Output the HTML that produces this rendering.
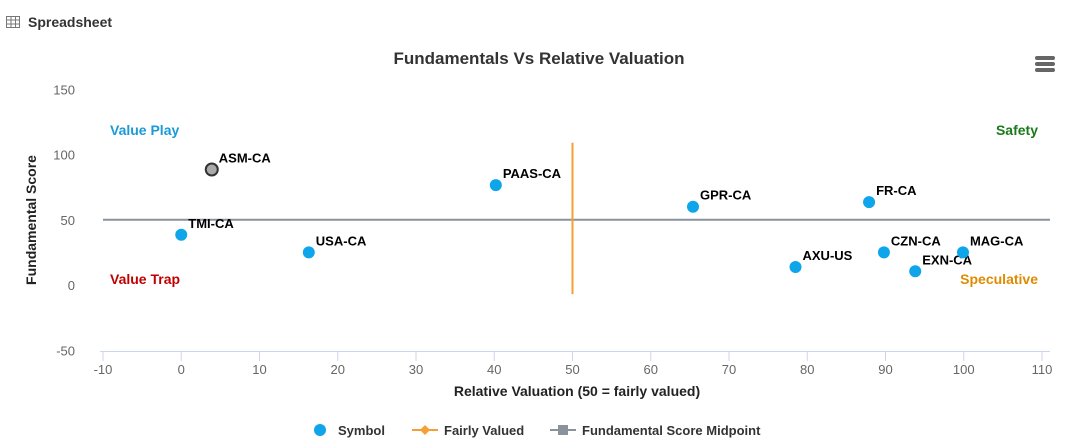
<!DOCTYPE html>
<html><head><meta charset="utf-8"><style>
body{margin:0;width:1070px;height:441px;background:#fff;font-family:"Liberation Sans",Arial,sans-serif;overflow:hidden}
</style></head><body>
<div style="position:absolute;left:6px;top:14px;font-size:14px;font-weight:bold;color:#333;display:flex;align-items:center">
<svg width="14" height="12" style="margin-right:8px"><rect x="0.5" y="0.5" width="13" height="11" fill="none" stroke="#777"/><path d="M0 4h14M0 8h14M5 0v12M9.5 0v12" stroke="#777"/></svg>Spreadsheet</div>
<svg id="chart" width="1070" height="441" style="position:absolute;left:0;top:0"></svg>
<script>
const names=["ASM-CA","TMI-CA","USA-CA","PAAS-CA","GPR-CA","FR-CA","AXU-US","CZN-CA","EXN-CA","MAG-CA"];
const relVal=[3.9,0,16.3,40.2,65.4,87.9,78.5,89.8,93.8,99.9];
const fundScore=[88.5,38.5,25,76.5,60,63.5,13.8,25,10.5,25];
const xTicks=[-10,0,10,20,30,40,50,60,70,80,90,100,110];
const yTicks=[150,100,50,0,-50];
const fairValue=50, midpoint=50;
const svg=document.getElementById('chart');const NS='http://www.w3.org/2000/svg';
const X=v=>181.25+v*7.825, Y=v=>285-v*1.305;
const ORANGE='#f5a035';
function el(t,a,txt){const e=document.createElementNS(NS,t);for(const k in a)e.setAttribute(k,a[k]);if(txt!=null)e.textContent=txt;svg.appendChild(e);return e;}
let t=el('text',{x:539,y:64,'text-anchor':'middle','font-size':17,'font-weight':'bold',fill:'#333'},'Fundamentals Vs Relative Valuation');


let m=el('g',{});

[58,64,70].forEach(y=>{const r=document.createElementNS(NS,'rect');r.setAttribute('x',1035);r.setAttribute('y',y-2);r.setAttribute('width',20);r.setAttribute('height',4);r.setAttribute('rx',2);r.setAttribute('fill','#666');m.appendChild(r);});
yTicks.forEach(v=>{const e=el('text',{x:75,y:Y(v)+5,'text-anchor':'end','font-size':13,fill:'#666'},v);

});
let ax=el('line',{x1:100,x2:1050,y1:351.5,y2:351.5,stroke:'#ccd6eb'});


xTicks.forEach(v=>{el('line',{x1:X(v),x2:X(v),y1:351,y2:361,stroke:'#ccd6eb'});
const e=el('text',{x:X(v),y:374,'text-anchor':'middle','font-size':13,fill:'#666'},v);

});
t=el('text',{x:577,y:396,'text-anchor':'middle','font-size':14,'font-weight':'bold',fill:'#222'},'Relative Valuation (50 = fairly valued)');


t=el('text',{x:36,y:220,'text-anchor':'middle','font-size':14,'font-weight':'bold',fill:'#222',transform:'rotate(-90 36 220)'},'Fundamental Score');


let l=el('line',{x1:103,x2:1050,y1:Y(midpoint),y2:Y(midpoint),stroke:'#8a929c','stroke-width':2});


l=el('line',{x1:X(fairValue),x2:X(fairValue),y1:Y(109),y2:Y(-7),stroke:ORANGE,'stroke-width':2});


[['Value Play',110,135,'#1a9ad6','start'],['Safety',1038,135,'#1a7a1a','end'],['Value Trap',110,284,'#c00000','start'],['Speculative',1038,284,'#e08a00','end']].forEach(q=>{
const e=el('text',{x:q[1],y:q[2],'font-size':14,'font-weight':'bold',fill:q[3],'text-anchor':q[4]},q[0]);

});
names.forEach((n,i)=>{const cx=X(relVal[i]),cy=Y(fundScore[i]);
const c=el('circle',i==0?{cx,cy,r:6,fill:'#aaa',stroke:'#333','stroke-width':2}:{cx,cy,r:6,fill:'#0ea5ea'});


const e=el('text',{x:cx+7,y:cy-7,'font-size':13,'font-weight':'bold',fill:'#000'},n);

});
let g=el('circle',{cx:320,cy:430,r:6,fill:'#0ea5ea'});

el('text',{x:338,y:435,'font-size':13,'font-weight':'bold',fill:'#333'},'Symbol');
g=el('line',{x1:412,x2:438,y1:430,y2:430,stroke:ORANGE,'stroke-width':2});

el('path',{d:'M425 425l5 5-5 5-5-5z',fill:ORANGE});
el('text',{x:444,y:435,'font-size':13,'font-weight':'bold',fill:'#333'},'Fairly Valued');
g=el('line',{x1:550,x2:576,y1:430,y2:430,stroke:'#8a929c','stroke-width':2});

el('rect',{x:558,y:425,width:10,height:10,fill:'#8a929c'});
el('text',{x:582,y:435,'font-size':13,'font-weight':'bold',fill:'#333'},'Fundamental Score Midpoint');
</script>
</body></html>
